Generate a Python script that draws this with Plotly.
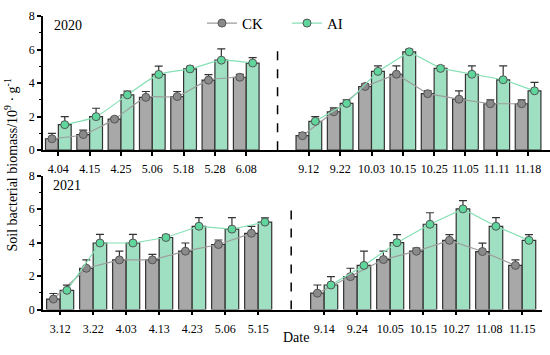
import plotly.graph_objects as go

# ---------------- data ----------------
dates_2020_a = ["4.04", "4.15", "4.25", "5.06", "5.18", "5.28", "6.08"]
dates_2020_b = ["9.12", "9.22", "10.03", "10.15", "10.25", "11.05", "11.11", "11.18"]
ck_2020_a = [0.68, 0.93, 1.85, 3.15, 3.2, 4.18, 4.35]
ck_2020_a_err = [0.32, 0.27, 0.1, 0.35, 0.3, 0.33, 0.17]
ai_2020_a = [1.52, 2.0, 3.3, 4.52, 4.85, 5.37, 5.2]
ai_2020_a_err = [0.48, 0.5, 0.22, 0.5, 0.15, 0.67, 0.32]
ck_2020_b = [0.86, 2.29, 3.8, 4.53, 3.37, 3.04, 2.77, 2.77]
ck_2020_b_err = [0.18, 0.23, 0.16, 0.5, 0.17, 0.5, 0.23, 0.23]
ai_2020_b = [1.72, 2.79, 4.7, 5.87, 4.88, 4.53, 4.2, 3.54]
ai_2020_b_err = [0.28, 0.21, 0.33, 0.15, 0.15, 0.5, 0.83, 0.5]

dates_2021_a = ["3.12", "3.22", "4.03", "4.13", "4.23", "5.06", "5.15"]
dates_2021_b = ["9.14", "9.24", "10.05", "10.15", "10.27", "11.08", "11.15"]
ck_2021_a = [0.63, 2.47, 2.97, 2.97, 3.49, 3.89, 4.56]
ck_2021_a_err = [0.33, 0.5, 0.52, 0.33, 0.49, 0.27, 0.42]
ai_2021_a = [1.15, 3.98, 3.98, 4.31, 4.98, 4.81, 5.23]
ai_2021_a_err = [0.31, 0.52, 0.52, 0.15, 0.52, 0.69, 0.25]
ck_2021_b = [0.98, 1.97, 2.99, 3.49, 4.14, 3.47, 2.64]
ck_2021_b_err = [0.49, 0.5, 0.5, 0.19, 0.34, 0.5, 0.33]
ai_2021_b = [1.47, 2.64, 4.0, 5.1, 6.02, 4.98, 4.14]
ai_2021_b_err = [0.5, 0.85, 0.48, 0.69, 0.49, 0.52, 0.34]

y_ticks = [0, 2, 4, 6, 8]
divider_top = 6.25

# ---------------- styles ----------------
FONT = "Liberation Serif"
GRAY_BAR = "#a8a8a8"
GREEN_BAR = "#a0e0c2"
GRAY_MK = "#8a8a8a"
GREEN_MK = "#5fd69c"
GRAY_LN = "#9c9c9c"
GREEN_LN = "#86e0b4"
EDGE = "#333333"
BW = 0.41

fig = go.Figure()


def add_panel(groups_dates, ck_vals, ck_errs, ai_vals, ai_errs, xa, ya, show_legend, smooth):
    pos = []
    start = 0
    for g in groups_dates:
        pos.append(list(range(start, start + len(g))))
        start += len(g) + 1
    all_pos = [p for g in pos for p in g]
    ck_all = [v for g in ck_vals for v in g]
    ai_all = [v for g in ai_vals for v in g]
    fig.add_trace(go.Bar(x=all_pos, y=ck_all, width=BW, offset=-BW,
                         marker=dict(color=GRAY_BAR, line=dict(color=EDGE, width=1.2)),
                         showlegend=False, xaxis=xa, yaxis=ya, hoverinfo="skip"))
    fig.add_trace(go.Bar(x=all_pos, y=ai_all, width=BW, offset=0,
                         marker=dict(color=GREEN_BAR, line=dict(color=EDGE, width=1.2)),
                         showlegend=False, xaxis=xa, yaxis=ya, hoverinfo="skip"))
    for gi, g in enumerate(pos):
        for name, vals, errs, shift, mk, ln in [
            ("CK", ck_vals[gi], ck_errs[gi], -BW / 2, GRAY_MK, GRAY_LN),
            ("AI", ai_vals[gi], ai_errs[gi], BW / 2, GREEN_MK, GREEN_LN),
        ]:
            fig.add_trace(go.Scatter(
                x=[p + shift for p in g], y=vals, mode="lines+markers", name=name,
                showlegend=(show_legend and gi == 0),
                line=dict(color=ln, width=1.2, shape="spline" if (smooth and gi == 0) else "linear", smoothing=0.6),
                marker=dict(size=8, color=mk, line=dict(color="#555555", width=1)),
                error_y=dict(type="data", symmetric=False, array=errs, arrayminus=[0] * len(errs),
                             color=EDGE, thickness=1.2, width=4),
                xaxis=xa, yaxis=ya))
    tickvals = all_pos
    ticktext = [d for g in groups_dates for d in g]
    divider_x = len(groups_dates[0])
    return tickvals, ticktext, divider_x


tv1, tt1, d1 = add_panel([dates_2020_a, dates_2020_b], [ck_2020_a, ck_2020_b], [ck_2020_a_err, ck_2020_b_err],
                         [ai_2020_a, ai_2020_b], [ai_2020_a_err, ai_2020_b_err], "x", "y", True, True)
tv2, tt2, d2 = add_panel([dates_2021_a, dates_2021_b], [ck_2021_a, ck_2021_b], [ck_2021_a_err, ck_2021_b_err],
                         [ai_2021_a, ai_2021_b], [ai_2021_a_err, ai_2021_b_err], "x2", "y2", False, False)

fig.add_shape(type="line", xref="x", yref="y", x0=d1, x1=d1, y0=0, y1=divider_top,
              line=dict(color="black", width=1.5, dash="dash"))
fig.add_shape(type="line", xref="x2", yref="y2", x0=d2, x1=d2, y0=0, y1=divider_top,
              line=dict(color="black", width=1.5, dash="dash"))

axis_common = dict(showline=True, linecolor="black", linewidth=1.5, ticks="outside",
                   ticklen=4, tickwidth=1.5, tickcolor="black", showgrid=False, zeroline=False,
                   tickfont=dict(family=FONT, size=12, color="black"))
yaxis_common = dict(axis_common, range=[0, 8], tickvals=y_ticks,
                    minor=dict(ticks="outside", ticklen=2.5, tickwidth=1, tickcolor="black", dtick=1))

fig.update_layout(
    width=550, height=355,
    margin=dict(l=0, r=0, t=0, b=0),
    plot_bgcolor="white", paper_bgcolor="white",
    bargap=0.18,
    font=dict(family=FONT, color="black"),
    xaxis=dict(axis_common, domain=[43 / 550, 1.0], range=[-0.49, 15.7], tickvals=tv1, ticktext=tt1,
               anchor="y", ticklabelstandoff=3),
    yaxis=dict(yaxis_common, domain=[(355 - 149) / 355, (355 - 9.5) / 355], anchor="x"),
    xaxis2=dict(axis_common, domain=[43 / 550, 542 / 550], range=[-0.52, 14.6], tickvals=tv2, ticktext=tt2,
                anchor="y2", ticklabelstandoff=3),
    yaxis2=dict(yaxis_common, domain=[(355 - 315) / 355, (355 - 175.7) / 355], anchor="x2"),
    legend=dict(orientation="h", x=202 / 550, y=1 - 17 / 355, xanchor="left", yanchor="middle",
                font=dict(family=FONT, size=15, color="black"), bgcolor="rgba(0,0,0,0)",
                entrywidth=40, entrywidthmode="pixels"),
    showlegend=True,
)

ann_font = dict(family=FONT, size=14, color="black")
fig.add_annotation(text="2020", xref="paper", yref="paper", x=68 / 550, y=1 - 19 / 355,
                   xanchor="center", yanchor="middle", showarrow=False, font=ann_font)
fig.add_annotation(text="2021", xref="paper", yref="paper", x=67 / 550, y=1 - 186 / 355,
                   xanchor="center", yanchor="middle", showarrow=False, font=ann_font)
fig.add_annotation(text="Soil bacterial biomass/10<sup>9</sup> · g<sup>-1</sup>", xref="paper", yref="paper",
                   x=12 / 550, y=1 - 165 / 355, textangle=-90, xanchor="center", yanchor="middle",
                   showarrow=False, font=ann_font)
fig.add_annotation(text="Date", xref="paper", yref="paper", x=296 / 550, y=1 - 344 / 355,
                   xanchor="center", yanchor="middle", showarrow=False, font=ann_font)

fig.write_html("out.html", config={"displayModeBar": False},
               post_script="document.body.style.margin='0';document.body.style.padding='0';")
